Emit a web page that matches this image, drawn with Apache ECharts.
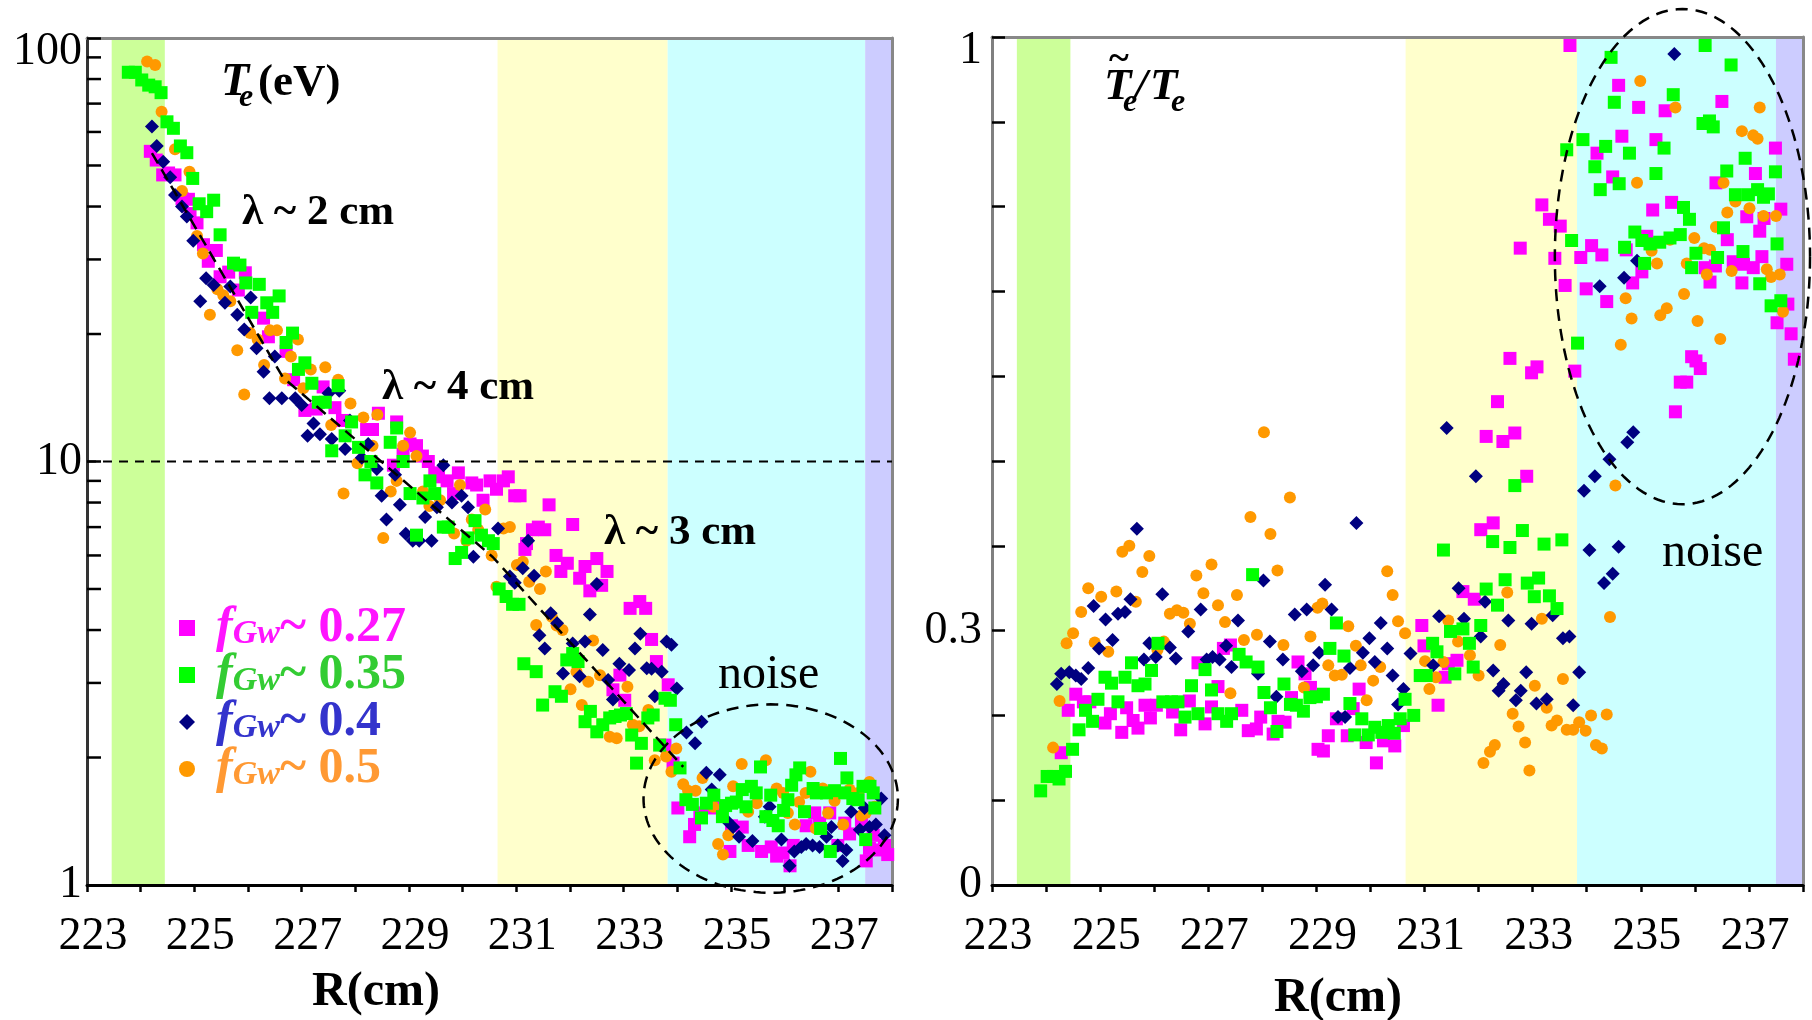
<!DOCTYPE html>
<html>
<head>
<meta charset="utf-8">
<script src="https://cdn.jsdelivr.net/npm/echarts@6/dist/echarts.min.js"></script>
<style>
  html, body { margin: 0; padding: 0; background: #fff; }
  #chart { width: 1812px; height: 1020px; }
</style>
</head>
<body>
<div id="chart"></div>
<script>
// ---------------- data ----------------
const rMin = 223, rMax = 238;
const rTickLabels = [223, 225, 227, 229, 231, 233, 235, 237];
const teTickLabels = [1, 10, 100];
const teMinorTicks = [2, 3, 4, 5, 6, 7, 8, 9, 20, 30, 40, 50, 60, 70, 80, 90];
const flTickLabels = [0, 0.3, 1];

const seriesNames = ['fGw~ 0.27', 'fGw~ 0.35', 'fGw~ 0.4', 'fGw~ 0.5'];

// radial zones: edge, core-edge, SOL, far SOL, limiter shadow
const bandSpans = [[223.46, 224.45], [230.65, 233.82], [233.82, 237.5], [237.5, 238]];

// exponential fits (straight segments on the log scale) and the 10 eV level
const teFit = [[224.21, 53.5], [226.65, 15.8], [230.56, 5.95], [234.11, 1.90]];
const teRefLevel = 10;

// noise outlines: centre R, centre value, half width (cm), value at top
const teNoiseOutline = [235.74, 1.6, 2.37, 2.67];
const flNoiseOutline = [235.77, 0.741, 2.36, 1.033];

// Te (eV) vs R (cm)
const teF027 = [[224.18,54],[224.29,51.5],[224.41,47.5],[224.52,48],[224.64,47.5],[224.77,41.8],[224.89,41.6],[224.92,38.5],[225.05,36.6],[225.17,32.5],[225.26,29.7],[225.41,31.5],[225.48,27.3],[225.64,28.0],[225.82,25.4],[225.95,27.9],[226.29,21.8],[226.38,19.7],[226.71,18.2],[226.85,15.6],[227.06,13.2],[227.27,13.3],[227.40,15.0],[227.62,13.4],[227.76,12.5],[228.21,11.9],[228.32,11.9],[228.43,13.0],[228.71,9.8],[228.77,12.4],[228.89,10.4],[229.02,11.0],[229.14,10.9],[229.25,10.3],[229.36,10.0],[229.48,9.4],[229.55,9.2],[229.71,9.0],[229.83,8.4],[229.92,9.4],[230.17,8.9],[230.26,8.8],[230.38,8.1],[230.51,9.0],[230.63,8.6],[230.76,9.0],[230.85,9.2],[230.97,8.3],[231.07,8.3],[231.16,6.2],[231.19,6.4],[231.30,6.9],[231.41,7.0],[231.53,6.9],[231.61,7.9],[231.74,6.0],[231.83,5.5],[231.95,5.75],[232.05,7.1],[232.18,5.3],[232.28,5.65],[232.37,4.95],[232.50,5.9],[232.59,5.1],[232.69,5.5],[232.80,2.89],[232.93,3.13],[233.02,2.73],[233.12,4.5],[233.30,4.67],[233.41,4.5],[233.52,3.8],[233.61,3.37],[233.77,2.14],[233.83,2.97],[233.92,1.94],[234.01,1.52],[234.23,1.30],[234.32,1.39],[234.42,1.48],[234.64,1.52],[234.73,1.53],[234.98,1.20],[235.01,1.38],[235.21,1.37],[235.32,1.24],[235.57,1.20],[235.75,1.23],[235.85,1.17],[235.97,1.19],[236.10,1.11],[236.16,1.24],[236.40,1.38],[236.56,1.48],[236.65,1.40],[236.84,1.48],[236.99,1.24],[237.12,1.40],[237.21,1.32],[237.43,1.42],[237.52,1.14],[237.58,1.22],[237.65,1.31],[237.74,1.21],[237.86,1.24],[237.92,1.18]];
const teF035 = [[223.77,83],[223.90,83],[224.02,79.6],[224.15,77.4],[224.27,76.7],[224.38,74.3],[224.49,63.4],[224.61,61.2],[224.74,55.6],[224.86,53.6],[224.97,46.6],[225.09,40.6],[225.23,38.9],[225.36,41.4],[225.48,34.3],[225.73,29.4],[225.85,29.1],[225.96,26.4],[226.07,22.5],[226.21,26.2],[226.35,23.7],[226.46,22.5],[226.58,24.6],[226.71,19.1],[226.83,20.1],[226.94,16.5],[227.06,17.1],[227.19,15.3],[227.31,13.8],[227.44,13.8],[227.56,10.6],[227.68,15.1],[227.81,11.5],[227.93,12.4],[228.06,10.8],[228.18,9.3],[228.29,10.0],[228.40,8.9],[228.65,11.1],[228.77,12.0],[228.89,10.0],[229.02,8.4],[229.14,6.7],[229.26,8.2],[229.39,9.0],[229.48,8.4],[229.64,7.0],[229.73,7.0],[229.86,5.9],[229.98,6.1],[230.10,6.6],[230.23,7.25],[230.35,6.7],[230.48,6.5],[230.57,6.4],[230.68,5.0],[230.81,4.8],[230.93,4.6],[231.05,4.6],[231.14,3.33],[231.37,3.19],[231.49,2.66],[231.72,2.86],[231.84,2.79],[231.94,3.40],[232.05,3.52],[232.15,3.37],[232.28,2.43],[232.38,2.57],[232.50,2.30],[232.61,2.39],[232.74,2.48],[232.84,2.50],[232.94,2.52],[233.05,2.54],[233.15,2.26],[233.24,1.94],[233.33,2.16],[233.45,2.48],[233.55,2.52],[233.67,2.14],[233.77,2.76],[233.87,2.73],[233.97,2.39],[234.05,1.89],[234.16,1.59],[234.28,1.55],[234.45,1.44],[234.54,1.56],[234.68,1.63],[234.84,1.45],[234.90,1.54],[235.01,1.56],[235.10,1.57],[235.21,1.68],[235.28,1.53],[235.38,1.71],[235.47,1.65],[235.55,1.90],[235.65,1.45],[235.74,1.63],[235.78,1.42],[235.88,1.38],[235.98,1.50],[236.06,1.59],[236.13,1.72],[236.21,1.82],[236.28,1.89],[236.37,1.49],[236.53,1.69],[236.59,1.65],[236.67,1.36],[236.78,1.65],[236.85,1.20],[236.93,1.67],[237.04,1.99],[237.12,1.65],[237.16,1.79],[237.27,1.60],[237.37,1.59],[237.46,1.71],[237.51,1.28],[237.59,1.71],[237.65,1.65],[237.68,1.52]];
const teF040 = [[224.21,61.8],[224.30,55.6],[224.42,51.0],[224.55,46.9],[224.64,42.6],[224.77,40.0],[224.86,37.9],[224.98,33.2],[225.11,23.9],[225.22,27.1],[225.36,26.1],[225.57,23.7],[225.67,25.9],[225.80,22.2],[225.93,20.5],[226.05,24.4],[226.16,18.5],[226.29,16.3],[226.40,14.1],[226.50,17.7],[226.63,14.1],[226.88,14.1],[227.00,13.6],[227.11,11.5],[227.22,12.3],[227.34,11.6],[227.50,14.5],[227.56,11.3],[227.70,14.7],[227.81,10.7],[227.90,12.5],[228.12,10.2],[228.24,11.0],[228.40,9.6],[228.49,8.3],[228.58,7.3],[228.74,9.3],[228.83,7.9],[228.94,6.75],[229.07,6.5],[229.19,6.5],[229.30,7.4],[229.42,6.5],[229.52,7.8],[229.64,9.8],[229.80,8.0],[229.98,8.3],[230.10,7.8],[230.20,5.96],[230.66,6.95],[230.88,5.35],[230.97,5.17],[231.12,5.6],[231.22,6.5],[231.33,5.37],[231.43,3.89],[231.53,3.62],[231.64,4.38],[231.76,4.15],[231.87,3.16],[232.05,3.72],[232.18,3.11],[232.28,3.76],[232.37,4.35],[232.50,5.14],[232.61,3.59],[232.71,3.05],[232.80,2.74],[232.92,3.33],[233.10,3.22],[233.21,3.62],[233.31,3.92],[233.43,3.25],[233.52,3.24],[233.58,2.79],[233.71,3.19],[233.80,3.76],[233.89,3.69],[233.99,2.91],[234.17,2.29],[234.33,2.16],[234.45,2.43],[234.54,1.84],[234.64,1.68],[234.79,1.82],[234.92,1.42],[235.04,1.37],[235.15,1.30],[235.40,1.27],[235.63,1.45],[235.72,1.53],[235.94,1.28],[236.09,1.11],[236.18,1.20],[236.31,1.23],[236.40,1.25],[236.52,1.24],[236.65,1.23],[236.78,1.30],[236.87,1.37],[236.99,1.24],[237.08,1.14],[237.15,1.21],[237.24,1.49],[237.40,1.35],[237.49,1.52],[237.58,1.37],[237.70,1.39],[237.80,1.60],[237.86,1.31]];
const teF050 = [[224.12,88],[224.27,86.3],[224.39,67],[224.64,54.6],[224.77,43.5],[224.91,48.3],[225.05,34.1],[225.16,31.0],[225.29,22.2],[225.43,25.5],[225.54,24.7],[225.67,23.9],[225.80,18.3],[225.93,14.4],[226.04,20.1],[226.18,19.4],[226.30,16.9],[226.41,20.4],[226.54,20.4],[226.69,15.7],[226.80,17.7],[226.93,19.4],[227.03,14.9],[227.17,16.5],[227.44,16.7],[227.55,12.2],[227.68,15.6],[227.78,8.4],[227.91,13.7],[228.04,9.9],[228.15,12.7],[228.32,10.9],[228.41,12.9],[228.52,6.6],[228.66,8.5],[228.77,9.0],[228.89,10.9],[229.02,11.7],[229.14,10.3],[229.26,8.5],[229.38,7.85],[229.58,8.1],[229.84,6.76],[229.95,8.8],[230.07,6.5],[230.17,7.3],[230.29,6.9],[230.42,7.7],[230.54,6.0],[230.63,5.06],[230.76,6.95],[230.88,7.0],[231.01,5.7],[231.12,5.8],[231.24,5.2],[231.37,4.11],[231.44,5.0],[231.55,5.5],[231.66,4.3],[231.75,4.1],[231.86,4.0],[232.01,2.9],[232.12,3.19],[232.22,2.66],[232.34,3.02],[232.43,3.78],[232.56,3.13],[232.74,2.24],[232.87,2.22],[233.07,2.94],[233.17,2.39],[233.29,2.37],[233.46,2.59],[233.58,1.97],[233.79,2.01],[233.89,1.85],[233.98,2.10],[234.11,1.73],[234.20,1.67],[234.34,1.67],[234.47,1.79],[234.67,1.53],[234.76,1.25],[234.85,1.18],[234.95,1.31],[235.04,1.71],[235.20,1.93],[235.32,1.49],[235.48,1.56],[235.65,1.97],[235.85,1.69],[235.97,1.65],[236.06,1.48],[236.19,1.39],[236.27,1.57],[236.39,1.65],[236.48,1.85],[236.58,1.36],[236.71,1.69],[236.81,1.48],[236.93,1.58],[237.09,1.39],[237.21,1.68],[237.37,1.65],[237.43,1.46],[237.51,1.48],[237.58,1.75],[237.68,1.53]];

// relative fluctuation level vs R (cm)
const flF027 = [[224.28,0.156],[224.41,0.206],[224.55,0.225],[224.69,0.216],[224.81,0.216],[225.09,0.191],[225.19,0.202],[225.40,0.180],[225.49,0.209],[225.61,0.194],[225.70,0.185],[225.83,0.212],[225.93,0.197],[226.04,0.212],[226.34,0.204],[226.49,0.183],[226.65,0.217],[226.81,0.262],[226.94,0.190],[227.06,0.210],[227.18,0.234],[227.28,0.279],[227.41,0.283],[227.62,0.206],[227.74,0.182],[227.89,0.184],[227.97,0.198],[228.20,0.178],[228.29,0.193],[228.42,0.192],[228.54,0.221],[228.66,0.263],[228.79,0.249],[228.89,0.233],[229.03,0.160],[229.13,0.158],[229.22,0.176],[229.37,0.196],[229.57,0.176],[229.68,0.208],[229.79,0.231],[229.92,0.168],[230.11,0.144],[230.24,0.170],[230.45,0.164],[230.61,0.188],[230.95,0.306],[230.99,0.282],[231.25,0.212],[231.38,0.245],[231.44,0.261],[231.60,0.265],[231.71,0.346],[231.92,0.337],[232.04,0.419],[232.14,0.529],[232.27,0.427],[232.35,0.570],[232.45,0.523],[232.58,0.621],[232.67,0.533],[232.77,0.751],[232.89,0.482],[232.98,0.604],[233.08,0.611],[233.17,0.802],[233.31,0.785],[233.41,0.739],[233.51,0.777],[233.60,0.707],[233.69,0.990],[233.78,0.606],[233.89,0.740],[233.99,0.703],[234.09,0.754],[234.19,0.863],[234.28,0.743],[234.37,0.688],[234.48,0.835],[234.59,0.943],[234.65,0.883],[234.73,0.749],[234.85,0.710],[234.96,0.917],[235.02,0.723],[235.11,0.765],[235.22,0.796],[235.28,0.879],[235.45,0.913],[235.57,0.805],[235.64,0.558],[235.73,0.593],[235.85,0.593],[235.94,0.623],[236.02,0.618],[236.10,0.609],[236.19,0.728],[236.28,0.711],[236.38,0.730],[236.39,0.828],[236.50,0.924],[236.60,0.761],[236.71,0.735],[236.87,0.710],[236.90,0.732],[236.96,0.788],[237.08,0.728],[237.12,0.839],[237.20,0.771],[237.24,0.741],[237.28,0.786],[237.49,0.869],[237.52,0.663],[237.59,0.797],[237.70,0.732],[237.72,0.685],[237.78,0.650],[237.84,0.620]];
const flF035 = [[223.90,0.111],[224.02,0.128],[224.13,0.128],[224.24,0.125],[224.36,0.134],[224.49,0.160],[224.61,0.183],[224.73,0.206],[224.86,0.193],[224.96,0.219],[225.09,0.245],[225.21,0.238],[225.33,0.216],[225.46,0.245],[225.58,0.262],[225.70,0.235],[225.83,0.237],[225.95,0.253],[226.07,0.285],[226.16,0.216],[226.32,0.216],[226.44,0.216],[226.57,0.198],[226.69,0.235],[226.81,0.202],[226.94,0.254],[227.06,0.230],[227.18,0.202],[227.34,0.193],[227.43,0.202],[227.57,0.272],[227.70,0.263],[227.82,0.366],[227.92,0.257],[228.03,0.227],[228.15,0.209],[228.27,0.181],[228.40,0.237],[228.52,0.213],[228.63,0.212],[228.76,0.205],[228.88,0.221],[229.00,0.222],[229.13,0.225],[229.25,0.279],[229.37,0.309],[229.51,0.270],[229.62,0.214],[229.71,0.177],[229.84,0.196],[229.96,0.177],[230.08,0.186],[230.21,0.180],[230.33,0.188],[230.44,0.179],[230.55,0.196],[230.64,0.219],[230.80,0.200],[230.92,0.247],[231.03,0.247],[231.15,0.285],[231.23,0.275],[231.35,0.395],[231.48,0.299],[231.56,0.249],[231.71,0.302],[231.83,0.285],[231.90,0.257],[232.04,0.306],[232.14,0.349],[232.26,0.405],[232.35,0.330],[232.49,0.360],[232.58,0.398],[232.67,0.471],[232.81,0.418],[232.90,0.356],[233.03,0.340],[233.11,0.362],[233.21,0.402],[233.31,0.341],[233.45,0.326],[233.54,0.407],[233.63,0.867],[233.72,0.760],[233.83,0.639],[233.93,0.879],[234.15,0.847],[234.25,0.820],[234.35,0.871],[234.45,0.976],[234.51,0.923],[234.60,0.827],[234.70,0.752],[234.79,0.863],[234.89,0.770],[235.02,0.760],[235.07,0.733],[235.17,0.756],[235.28,0.839],[235.35,0.758],[235.43,0.869],[235.54,0.763],[235.60,0.932],[235.73,0.767],[235.79,0.799],[235.90,0.785],[235.94,0.728],[236.02,0.745],[236.15,0.898],[236.19,0.990],[236.27,0.901],[236.34,0.894],[236.42,0.740],[236.53,0.775],[236.59,0.842],[236.67,0.967],[236.75,0.814],[236.89,0.747],[236.93,0.857],[236.99,0.814],[237.16,0.820],[237.20,0.709],[237.27,0.811],[237.36,0.815],[237.41,0.683],[237.49,0.841],[237.52,0.756],[237.59,0.689]];
const flF040 = [[224.20,0.237],[224.28,0.249],[224.43,0.251],[224.55,0.247],[224.65,0.243],[224.78,0.256],[224.88,0.329],[224.98,0.279],[225.10,0.313],[225.23,0.289],[225.33,0.320],[225.46,0.322],[225.56,0.337],[225.68,0.420],[225.81,0.266],[225.91,0.285],[226.03,0.269],[226.15,0.343],[226.29,0.280],[226.40,0.267],[226.63,0.299],[226.86,0.325],[226.97,0.266],[227.08,0.269],[227.21,0.266],[227.33,0.282],[227.43,0.257],[227.55,0.312],[227.92,0.249],[228.02,0.359],[228.14,0.287],[228.26,0.222],[228.38,0.266],[228.60,0.319],[228.73,0.252],[228.82,0.325],[228.94,0.259],[229.05,0.274],[229.16,0.354],[229.28,0.325],[229.40,0.198],[229.53,0.198],[229.62,0.256],[229.74,0.427],[229.86,0.274],[229.98,0.291],[230.08,0.263],[230.19,0.309],[230.31,0.279],[230.41,0.247],[230.51,0.213],[230.61,0.231],[230.74,0.273],[231.16,0.259],[231.27,0.317],[231.41,0.539],[231.63,0.350],[231.73,0.314],[231.95,0.482],[232.04,0.293],[232.12,0.334],[232.27,0.253],[232.37,0.229],[232.46,0.237],[232.55,0.312],[232.69,0.218],[232.78,0.229],[232.88,0.251],[232.98,0.308],[233.07,0.214],[233.26,0.219],[233.37,0.318],[233.56,0.291],[233.68,0.293],[233.75,0.212],[233.86,0.251],[233.95,0.465],[234.05,0.395],[234.15,0.482],[234.24,0.706],[234.32,0.356],[234.42,0.502],[234.48,0.367],[234.59,0.399],[234.69,0.716],[234.75,0.522],[234.86,0.534],[234.93,0.736],[235.62,0.980]];
const flF050 = [[224.13,0.162],[224.25,0.217],[224.38,0.285],[224.50,0.297],[224.65,0.322],[224.78,0.350],[224.90,0.286],[225.02,0.340],[225.15,0.275],[225.30,0.346],[225.41,0.393],[225.54,0.400],[225.66,0.334],[225.78,0.369],[225.91,0.388],[226.06,0.277],[226.18,0.287],[226.29,0.320],[226.42,0.324],[226.54,0.321],[226.66,0.308],[226.78,0.365],[226.91,0.344],[227.06,0.378],[227.18,0.330],[227.31,0.310],[227.41,0.226],[227.53,0.342],[227.66,0.289],[227.78,0.434],[227.90,0.295],[228.03,0.534],[228.15,0.414],[228.28,0.371],[228.39,0.283],[228.51,0.457],[228.77,0.233],[228.89,0.293],[229.02,0.327],[229.11,0.332],[229.22,0.259],[229.34,0.247],[229.47,0.248],[229.59,0.305],[229.73,0.282],[229.82,0.259],[229.93,0.218],[230.05,0.241],[230.18,0.257],[230.31,0.370],[230.41,0.342],[230.51,0.311],[230.64,0.297],[231.01,0.264],[231.09,0.231],[231.21,0.245],[231.35,0.263],[231.44,0.312],[231.62,0.287],[231.84,0.271],[232.00,0.247],[232.09,0.144],[232.21,0.157],[232.30,0.165],[232.40,0.283],[232.53,0.345],[232.63,0.202],[232.74,0.187],[232.86,0.168],[232.94,0.135],[233.04,0.235],[233.17,0.314],[233.26,0.209],[233.35,0.188],[233.45,0.194],[233.56,0.243],[233.63,0.183],[233.75,0.183],[233.86,0.192],[233.98,0.182],[234.08,0.200],[234.17,0.165],[234.28,0.161],[234.37,0.201],[234.43,0.316],[234.53,0.471],[234.63,0.637],[234.72,0.692],[234.83,0.668],[234.93,0.828],[234.99,0.948],[235.20,0.748],[235.30,0.733],[235.36,0.672],[235.48,0.680],[235.54,0.761],[235.64,0.917],[235.80,0.697],[235.85,0.733],[235.99,0.763],[236.05,0.665],[236.17,0.751],[236.22,0.720],[236.28,0.749],[236.39,0.776],[236.47,0.644],[236.53,0.828],[236.60,0.793],[236.68,0.724],[236.75,0.806],[236.87,0.889],[237.01,0.798],[237.08,0.884],[237.16,0.880],[237.20,0.917],[237.27,0.789],[237.33,0.726],[237.41,0.717],[237.50,0.789],[237.57,0.720],[237.63,0.676]];

const teSeries = [teF027, teF035, teF040, teF050];
const flSeries = [flF027, flF035, flF040, flF050];

// ---------------- styling ----------------
const FONT = '"Liberation Serif", "Times New Roman", serif';
const markerColors = ['#ff00ff', '#00ff00', '#000080', '#ff9900'];
const legendTextColors = ['#ff14ff', '#33cc33', '#3333cc', '#ff9933'];
const markerShapes = ['rect', 'rect', 'diamond', 'circle'];
const markerSizes = [13, 13, 14, 12];
const markerZ = [3, 6, 5, 4];
const bandColors = ['#ccff99', '#ffffcc', '#ccffff', '#ccccff'];

// tick label formatter: shows only the listed values; the end value of an
// axis is pushed down a little with a taller rich-text line box
function labelFor(list, lowered) {
  return v => {
    const hit = list.find(t => Math.abs(t - v) < 1e-6 * Math.max(1, Math.abs(t)));
    if (hit === undefined) return '';
    return hit === lowered ? '{lo|' + hit + '}' : '{n|' + hit + '}';
  };
}
const tickRich = {
  n: { fontFamily: FONT, fontSize: 46, color: '#000' },
  lo: { fontFamily: FONT, fontSize: 46, color: '#000', lineHeight: 74, verticalAlign: 'bottom' }
};

function bottomAxis(gridIndex) {
  return {
    type: 'value', gridIndex, min: rMin, max: rMax, interval: 1, position: 'bottom',
    axisLine: { show: true, onZero: false, lineStyle: { color: '#000', width: 3 } },
    axisTick: { show: true, inside: false, length: 7, lineStyle: { color: '#000', width: 2.5 } },
    axisLabel: { show: true, margin: 29, color: '#000', fontSize: 46, fontFamily: FONT,
      padding: [0, 0, 0, 12], formatter: labelFor(rTickLabels), rich: tickRich },
    splitLine: { show: false }
  };
}
function topBorder(gridIndex) {
  return {
    type: 'value', gridIndex, min: rMin, max: rMax, position: 'top',
    axisLine: { show: true, onZero: false, lineStyle: { color: '#888', width: 3 } },
    axisTick: { show: false }, axisLabel: { show: false }, splitLine: { show: false }
  };
}
function rightBorder(gridIndex) {
  return {
    type: 'value', gridIndex, min: 0, max: 1, position: 'right',
    axisLine: { show: true, onZero: false, lineStyle: { color: '#888', width: 3 } },
    axisTick: { show: false }, axisLabel: { show: false }, splitLine: { show: false }
  };
}

function bandRenderer(params, api) {
  const cs = params.coordSys;
  const x0 = api.coord([api.value(0), api.value(1)])[0];
  const x1 = api.coord([api.value(1), api.value(1)])[0];
  return { type: 'rect', shape: { x: x0, y: cs.y, width: x1 - x0, height: cs.height },
    style: { fill: bandColors[params.dataIndex] } };
}

function outlineRenderer(params, api) {
  const cx = api.value(0), cy = api.value(1);
  const c = api.coord([cx, cy]);
  const rx = api.coord([cx + api.value(2), cy])[0] - c[0];
  const ry = c[1] - api.coord([cx, api.value(3)])[1];
  const pts = [];
  for (let k = 0; k <= 160; k++) {
    const t = k / 160 * Math.PI * 2;
    pts.push([c[0] + rx * Math.cos(t), c[1] + ry * Math.sin(t)]);
  }
  return { type: 'polyline', shape: { points: pts },
    style: { stroke: '#000', fill: null, lineWidth: 2.5, lineDash: [12, 8] } };
}

function minorTickRenderer(params, api) {
  const p = api.coord([api.value(0), api.value(1)]);
  return { type: 'line', shape: { x1: p[0], y1: p[1], x2: p[0] + 14, y2: p[1] },
    style: { stroke: '#000', lineWidth: 2.5 } };
}

function scatterSeries(i, data, xAxisIndex, yAxisIndex) {
  return {
    type: 'scatter', name: seriesNames[i], xAxisIndex, yAxisIndex, data,
    symbol: markerShapes[i], symbolSize: markerSizes[i],
    itemStyle: { color: markerColors[i], opacity: 1 },
    z: markerZ[i], silent: true
  };
}

function txt(text, x, y, size, opts) {
  opts = opts || {};
  return {
    type: 'text', x, y, silent: true, z: 100,
    style: {
      text, fill: '#000',
      font: (opts.italic ? 'italic ' : '') + (opts.bold ? 'bold ' : '') + size + 'px ' + FONT,
      textAlign: opts.align || 'left', textVerticalAlign: 'middle'
    }
  };
}

const series = [
  { type: 'custom', name: 'zones', xAxisIndex: 0, yAxisIndex: 0, z: -1, silent: true,
    data: bandSpans, renderItem: bandRenderer },
  { type: 'custom', name: 'zones', xAxisIndex: 2, yAxisIndex: 2, z: -1, silent: true,
    data: bandSpans, renderItem: bandRenderer },
  { type: 'custom', name: 'minor ticks', xAxisIndex: 0, yAxisIndex: 0, z: 9, silent: true,
    data: teMinorTicks.map(v => [rMin, v]), renderItem: minorTickRenderer },
  { type: 'line', name: '10 eV', xAxisIndex: 0, yAxisIndex: 0, z: 7, silent: true,
    data: [[rMin, teRefLevel], [rMax, teRefLevel]], symbol: 'none',
    lineStyle: { color: '#000', width: 2, type: [9, 7] } },
  { type: 'line', name: 'fit', xAxisIndex: 0, yAxisIndex: 0, z: 7, silent: true,
    data: teFit, symbol: 'none',
    lineStyle: { color: '#000', width: 2.5, type: [12, 7] } },
  { type: 'custom', name: 'noise outline', xAxisIndex: 0, yAxisIndex: 0, z: 8, silent: true,
    data: [teNoiseOutline], renderItem: outlineRenderer },
  { type: 'custom', name: 'noise outline', xAxisIndex: 2, yAxisIndex: 2, z: 8, silent: true,
    data: [flNoiseOutline], renderItem: outlineRenderer }
];
teSeries.forEach((d, i) => series.push(scatterSeries(i, d, 0, 0)));
flSeries.forEach((d, i) => series.push(scatterSeries(i, d, 2, 2)));

const option = {
  animation: false,
  backgroundColor: '#fff',
  grid: [
    { left: 87, top: 38, width: 805, height: 847 },
    { left: 992, top: 37, width: 811, height: 848 }
  ],
  xAxis: [bottomAxis(0), topBorder(0), bottomAxis(1), topBorder(1)],
  yAxis: [
    { type: 'log', gridIndex: 0, logBase: 10, min: 1, max: 100,
      axisLine: { show: true, onZero: false, lineStyle: { color: '#333', width: 3 } },
      axisTick: { show: true, inside: true, length: 14, lineStyle: { color: '#000', width: 2.5 } },
      axisLabel: { margin: 5, color: '#000', fontSize: 46, fontFamily: FONT,
        formatter: labelFor(teTickLabels, 100), rich: tickRich },
      splitLine: { show: false } },
    rightBorder(0),
    { type: 'value', gridIndex: 1, min: 0, max: 1, interval: 0.1,
      axisLine: { show: true, onZero: false, lineStyle: { color: '#808080', width: 3 } },
      axisTick: { show: true, inside: true, length: 13, lineStyle: { color: '#000', width: 2.5 } },
      axisLabel: { margin: 10, color: '#000', fontSize: 46, fontFamily: FONT,
        formatter: labelFor(flTickLabels, 1), rich: tickRich },
      splitLine: { show: false } },
    rightBorder(1)
  ],
  legend: {
    data: seriesNames.map((n, i) => ({ name: n, textStyle: { color: legendTextColors[i] } })),
    orient: 'vertical', left: 174, top: 598, padding: 5,
    itemWidth: 16, itemHeight: 16, itemGap: -3, selectedMode: false,
    formatter: name => '{f|f}{g|Gw}{v|' + name.slice(3) + '}',
    textStyle: {
      fontFamily: FONT, fontSize: 50, fontWeight: 'bold',
      rich: {
        f: { fontFamily: FONT, fontSize: 50, fontStyle: 'italic', fontWeight: 'bold', lineHeight: 47, padding: [0, 0, 0, 16] },
        g: { fontFamily: FONT, fontSize: 34, fontStyle: 'italic', fontWeight: 'bold', lineHeight: 18, verticalAlign: 'bottom' },
        v: { fontFamily: FONT, fontSize: 50, fontWeight: 'bold', lineHeight: 47 }
      }
    }
  },
  graphic: [
    // left panel: quantity label
    txt('T', 221, 83, 46, { bold: true, italic: true }),
    txt('e', 239, 98, 32, { bold: true, italic: true }),
    txt('(eV)', 258, 83, 45, { bold: true }),
    // decay-length labels
    txt('\u03bb ~ 2 cm', 242, 213, 43, { bold: true }),
    txt('\u03bb ~ 4 cm', 382, 388, 43, { bold: true }),
    txt('\u03bb ~ 3 cm', 604, 533, 43, { bold: true }),
    txt('noise', 718, 675, 48),
    txt('R(cm)', 376, 993, 48, { bold: true, align: 'center' }),
    // right panel: quantity label
    txt('~', 1119, 60, 38, { bold: true, align: 'center' }),
    txt('T', 1104, 87, 45, { bold: true, italic: true }),
    txt('e', 1123, 103, 32, { bold: true, italic: true }),
    txt('/', 1135, 87, 45, { bold: true, italic: true }),
    txt('T', 1150, 87, 45, { bold: true, italic: true }),
    txt('e', 1171, 103, 32, { bold: true, italic: true }),
    txt('noise', 1662, 553, 48),
    txt('R(cm)', 1338, 999, 48, { bold: true, align: 'center' })
  ],
  series
};

const chart = echarts.init(document.getElementById('chart'), null, { renderer: 'canvas' });
chart.setOption(option);
</script>
</body>
</html>
